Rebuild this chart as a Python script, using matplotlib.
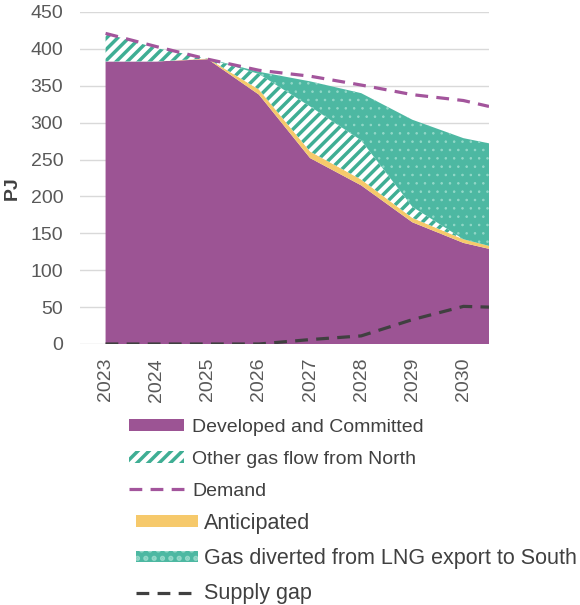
import matplotlib
matplotlib.use("Agg")
import matplotlib.pyplot as plt
from matplotlib.patches import Patch
from matplotlib.lines import Line2D
import numpy as np

plt.rcParams['font.family'] = ['Liberation Sans', 'DejaVu Sans']
plt.rcParams['hatch.linewidth'] = 2.5

# Yearly points plus the closing half-year point at the right edge
years = [2023, 2024, 2025, 2026, 2027, 2028, 2029, 2030, 2030.5]
year_labels = ['2023', '2024', '2025', '2026', '2027', '2028', '2029', '2030']

developed = [383, 383, 386, 338, 252, 215, 165, 137, 129]
anticipated = [0, 0, 1, 7, 9, 8, 6, 5, 4]
other_north = [38, 18, 0, 21, 61, 53, 15, 0, 0]
lng_diverted = [0, 0, 0, 3, 34, 64, 118, 137, 139]
demand = [421, 403, 386, 371, 363, 351, 338, 330, 322]
supply_gap = [0, 0, 0, 0, 6, 11, 33, 51, 50]

PURPLE = '#9C5494'
YELLOW = '#F6C96B'
TEAL = '#3FAE94'
TEAL_FILL = '#4DB8A2'
DOTS = '#93D8C8'
DEMAND_C = '#A3559C'
GAP_C = '#404040'
TEXT_C = '#595959'

fig = plt.figure(figsize=(5.8, 6.05), dpi=100)
ax = fig.add_axes([80 / 580, 1 - 344 / 605, (489 - 80) / 580, (344 - 12) / 605])

x = np.array(years)
d = np.array(developed)
a = np.array(anticipated)
o = np.array(other_north)
g = np.array(lng_diverted)

b1 = d
b2 = b1 + a
b3 = b2 + o
b4 = b3 + g

ax.fill_between(x, 0, b1, facecolor=PURPLE, edgecolor='none', linewidth=0, zorder=2)
ax.fill_between(x, b1, b2, facecolor=YELLOW, edgecolor='none', linewidth=0, zorder=2)
ax.fill_between(x, b2, b3, facecolor='white', edgecolor=TEAL, hatch='///',
                linewidth=0, zorder=2)
with plt.rc_context({'hatch.linewidth': 0.6}):
    ax.fill_between(x, b3, b4, facecolor=TEAL_FILL, edgecolor=DOTS, hatch='..',
                    linewidth=0, zorder=2)

ax.plot(x, demand, color=DEMAND_C, linewidth=2.3, linestyle=(0, (4, 2.6)),
        zorder=4)
ax.plot(x, supply_gap, color=GAP_C, linewidth=2.3, linestyle=(0, (4, 2.6)),
        zorder=4)

ax.set_xlim(2022.5, 2030.5)
ax.set_ylim(0, 450)
ax.set_yticks(np.arange(0, 451, 50))
ax.set_xticks(years[:8])
ax.set_xticklabels(year_labels, rotation=90)
ax.tick_params(axis='both', length=0, labelsize=14, labelcolor=TEXT_C)
ax.tick_params(axis='y', pad=12)
ax.tick_params(axis='x', pad=10)
ax.grid(axis='y', color='#D9D9D9', linewidth=1.0)
ax.set_axisbelow(True)
for s in ax.spines.values():
    s.set_visible(False)

ax.set_ylabel('PJ', fontsize=14, fontweight='bold', color='#404040')
ax.yaxis.set_label_coords(-0.145, 0.47)

# Legend handles
h_dev = Patch(facecolor=PURPLE, edgecolor='none')
h_north = Patch(facecolor='white', edgecolor=TEAL, hatch='///', linewidth=0)
h_ant = Patch(facecolor=YELLOW, edgecolor='none')
with plt.rc_context({'hatch.linewidth': 0.6}):
    h_lng = Patch(facecolor=TEAL_FILL, edgecolor=DOTS, hatch='..', linewidth=0)
h_dem = Line2D([], [], color=DEMAND_C, linewidth=2.3, linestyle=(0, (4, 2.6)))
h_gap = Line2D([], [], color=GAP_C, linewidth=2.3, linestyle=(0, (4, 2.6)))

common = dict(frameon=False, labelcolor='#404040', loc='upper left',
              borderpad=0, borderaxespad=0)
leg1 = fig.legend([h_dev, h_north, h_dem],
                  ['Developed and Committed', 'Other gas flow from North', 'Demand'],
                  bbox_to_anchor=(129 / 580, 1 - 419 / 605), fontsize=14,
                  labelspacing=0.76, handleheight=0.55,
                  handlelength=2.85, handletextpad=0.4, **common)
leg2 = fig.legend([h_ant, h_lng, h_gap],
                  ['Anticipated', 'Gas diverted from LNG export to South', 'Supply gap'],
                  bbox_to_anchor=(136 / 580, 1 - 513 / 605), fontsize=15.5,
                  labelspacing=0.66, handleheight=0.47,
                  handlelength=2.88, handletextpad=0.28, **common)

fig.savefig('out.png', dpi=100)
